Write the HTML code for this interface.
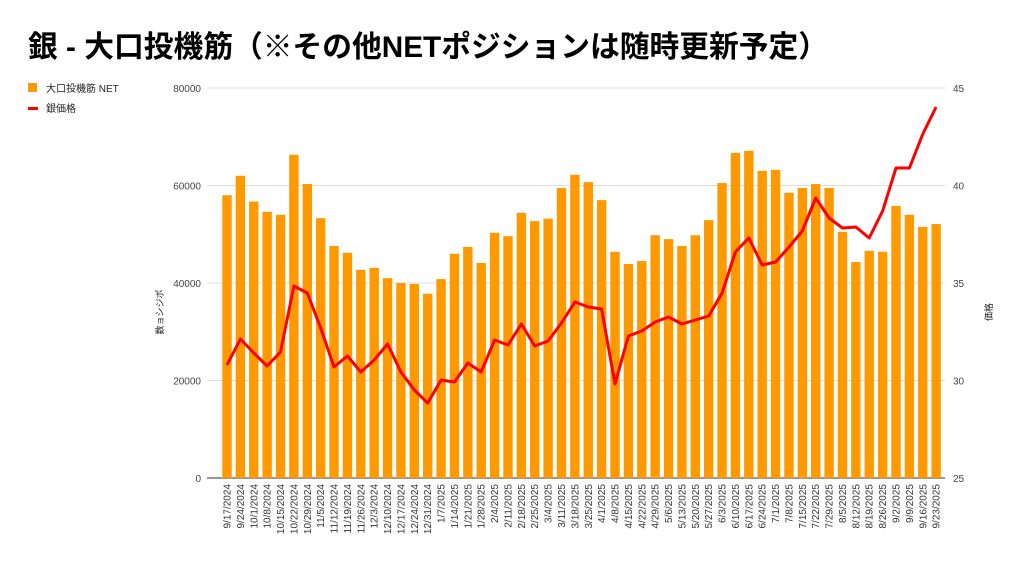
<!DOCTYPE html>
<html><head><meta charset="utf-8">
<style>
html,body{margin:0;padding:0;background:#fff;}
body{width:1024px;height:565px;overflow:hidden;font-family:"Liberation Sans","Noto Sans CJK JP",sans-serif;}
</style></head>
<body>
<svg id="c" width="1024" height="565" xmlns="http://www.w3.org/2000/svg" font-family="Liberation Sans, Noto Sans CJK JP, sans-serif">
<text x="28" y="57" font-size="30" font-weight="bold" fill="#000" textLength="800" lengthAdjust="spacingAndGlyphs">銀 - 大口投機筋（※その他NETポジションは随時更新予定）</text>
<rect x="28" y="83" width="9" height="9" fill="#ff9900"/>
<text x="46" y="92" font-size="10" fill="#222">大口投機筋  NET</text>
<rect x="28" y="107" width="10" height="3" fill="#ff0000"/>
<text x="46" y="112" font-size="10" fill="#222">銀価格</text>
<text transform="translate(163,312) rotate(-90)" font-size="9" fill="#222" text-anchor="middle">数ョシジポ</text>
<text transform="translate(992,312) rotate(-90)" font-size="9" fill="#222" text-anchor="middle">価格</text>
<g id="grid"></g>
<g id="bars"></g>
<g id="labs"></g>
<g id="ln"></g>
</svg>
<script>
(function(){
var ns='http://www.w3.org/2000/svg';
function el(p,t,a,txt){var e=document.createElementNS(ns,t);for(var k in a)e.setAttribute(k,a[k]);if(txt!=null)e.textContent=txt;document.getElementById(p).appendChild(e);return e;}
var L=207,R=945,T=88,B=478;
for(var i=0;i<=4;i++){var y=B-i*(B-T)/4;
el('grid','line',{x1:L,x2:R,y1:y,y2:y,stroke:(i==0?'#333':'#ddd'),'stroke-width':1});
el('grid','text',{x:L-6,y:y+4,'font-size':10,fill:'#444','text-anchor':'end'},String(i*20000));
el('grid','text',{x:R+8,y:y+4,'font-size':10,fill:'#444'},String(25+i*5));}
var v=[58000,62000,56700,54600,54000,66300,60300,53300,47600,46200,42700,43100,41000,40000,39800,37800,40800,46000,47400,44100,50300,49600,54400,52700,53200,59500,62200,60700,57000,46400,43900,44500,49800,49000,47600,49800,52900,60500,66700,67100,63000,63200,58500,59500,60300,59500,50500,44300,46600,46400,55800,54000,51500,52100];
var ly=[365,339,353,366,352,286,293,328,367,356,372,360,344,372,390,403,380,382,363,372,340,345,324,346,341,323,302,307,309,384,336,331,322,317,324,320,316,293,252,238,265,262,247,231,198,218,228,227,238,211,168,168,134,107];
var d=new Date(2024,8,17,12),pts=[];
for(var i=0;i<54;i++){var x=227+i*13.38;var tp=B-v[i]*(B-T)/80000;
el('bars','rect',{x:(x-4.7).toFixed(2),y:tp.toFixed(2),width:9.4,height:(B-tp).toFixed(2),fill:'#ff9900'});
var lab=(d.getMonth()+1)+'/'+d.getDate()+'/'+d.getFullYear();
el('labs','text',{transform:'translate('+(x+3.5).toFixed(2)+',484) rotate(-90)','font-size':10,fill:'#333','text-anchor':'end'},lab);
pts.push(x.toFixed(1)+','+ly[i]);d.setDate(d.getDate()+7);}
el('ln','polyline',{points:pts.join(' '),fill:'none',stroke:'#ff0000','stroke-width':3,'stroke-linejoin':'round'});
})();
</script>
</body></html>
